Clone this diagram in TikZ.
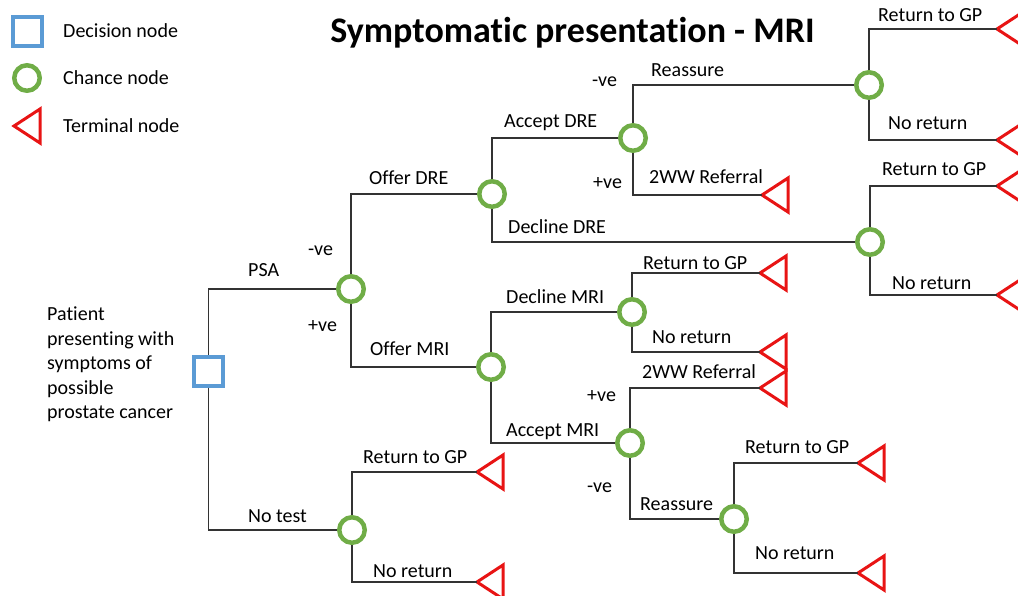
\documentclass[tikz,border=0pt]{standalone}
\usepackage{fontspec}
\setmainfont{Carlito}[Ligatures=NoCommon]
\begin{document}
\begin{tikzpicture}[x=1pt,y=-1pt,
  decision/.style={draw=decblue,line width=4pt,minimum size=29pt,inner sep=0pt,shape=rectangle},
  chance/.style={draw=chgreen,line width=4.5pt,minimum size=25.5pt,inner sep=0pt,shape=circle},
  branch/.style={draw=black!80,line width=1.3pt},
  lbl/.style={anchor=west,inner sep=0pt,text height=13pt,text depth=0pt,font=\fontsize{20}{24.5}\selectfont},
  terminal/.pic={\draw[draw=termred,line width=3pt,line join=miter] (0,0) -- (26,-17) -- (26,17) -- cycle;}
]
\definecolor{decblue}{RGB}{91,155,213}
\definecolor{chgreen}{RGB}{112,173,71}
\definecolor{termred}{RGB}{232,20,20}

\useasboundingbox (0,0) rectangle (1018,595);

% legend
\node[decision] (legdec) at (27,31) {};
\node[chance] (legchance) at (27,78) {};
\coordinate (legterm) at (14,126);
\pic at (legterm) {terminal};
\node[lbl] at (63,31) {Decision node};
\node[lbl] at (63,78) {Chance node};
\node[lbl] at (63,126) {Terminal node};

% title
\node[anchor=base,inner sep=0pt,font=\fontsize{36}{40}\selectfont\bfseries] (title) at (572.5,42) {Symptomatic presentation - MRI};

% decision and chance nodes
\node[decision] (dec) at (208.5,371) {};
\node[chance] (psa) at (351,289) {};
\node[chance] (notest) at (352,530) {};
\node[chance] (dre) at (492,194) {};
\node[chance] (mri) at (491,367) {};
\node[chance] (adre) at (633,138) {};
\node[chance] (ddre) at (870,242) {};
\node[chance] (reas1) at (869,85) {};
\node[chance] (dmri) at (632,312) {};
\node[chance] (amri) at (630,443) {};
\node[chance] (reas2) at (734,519) {};

% terminal tips
\coordinate (t1) at (997,29);
\coordinate (t2) at (997,140);
\coordinate (t3) at (762,195);
\coordinate (t4) at (997,186);
\coordinate (t5) at (997,295);
\coordinate (t6) at (760,273);
\coordinate (t7) at (760,352);
\coordinate (t8) at (760,388);
\coordinate (t9) at (858,463);
\coordinate (t10) at (858,573);
\coordinate (t11) at (477,472);
\coordinate (t12) at (477,582);
\foreach \t in {t1,t2,t3,t4,t5,t6,t7,t8,t9,t10,t11,t12} {\pic at (\t) {terminal};}

% branches
\draw[branch] (dec.north) |- (psa.west);
\draw[branch] (dec.south) |- (notest.west);
\draw[branch] (psa.north) |- (dre.west);
\draw[branch] (psa.south) |- (mri.west);
\draw[branch] (dre.north) |- (adre.west);
\draw[branch] (dre.south) |- (ddre.west);
\draw[branch] (adre.north) |- (reas1.west);
\draw[branch] (adre.south) |- (t3);
\draw[branch] (reas1.north) |- (t1);
\draw[branch] (reas1.south) |- (t2);
\draw[branch] (ddre.north) |- (t4);
\draw[branch] (ddre.south) |- (t5);
\draw[branch] (mri.north) |- (dmri.west);
\draw[branch] (mri.south) |- (amri.west);
\draw[branch] (dmri.north) |- (t6);
\draw[branch] (dmri.south) |- (t7);
\draw[branch] (amri.north) |- (t8);
\draw[branch] (amri.south) |- (reas2.west);
\draw[branch] (reas2.north) |- (t9);
\draw[branch] (reas2.south) |- (t10);
\draw[branch] (notest.north) |- (t11);
\draw[branch] (notest.south) |- (t12);

% root description
\node[anchor=north west,inner sep=0pt,align=left,font=\fontsize{20}{24.5}\selectfont] (patient) at (47,307)
  {Patient\\presenting with\\symptoms of\\possible\\prostate cancer};

% branch labels
\node[lbl] at (248,270) {PSA};
\node[lbl] at (308,249) {-ve};
\node[lbl] at (308,325) {+ve};
\node[lbl] at (248,516) {No test};
\node[lbl] at (369,178) {Offer DRE};
\node[lbl] at (370,349) {Offer MRI};
\node[lbl] at (504,121) {Accept DRE};
\node[lbl] at (508,227) {Decline DRE};
\node[lbl] at (592,80) {-ve};
\node[lbl] at (593,182) {+ve};
\node[lbl] at (651,70) {Reassure};
\node[lbl] at (649,177) {2WW Referral};
\node[lbl] at (878,15) {Return to GP};
\node[lbl] at (888,123) {No return};
\node[lbl] at (882,169) {Return to GP};
\node[lbl] at (892,283) {No return};
\node[lbl] at (506,297) {Decline MRI};
\node[lbl] at (643,263) {Return to GP};
\node[lbl] at (652,337) {No return};
\node[lbl] at (642,372) {2WW Referral};
\node[lbl] at (587,395) {+ve};
\node[lbl] at (506,430) {Accept MRI};
\node[lbl] at (587,486) {-ve};
\node[lbl] at (640,504) {Reassure};
\node[lbl] at (745,447) {Return to GP};
\node[lbl] at (755,553) {No return};
\node[lbl] at (363,457) {Return to GP};
\node[lbl] at (373,571) {No return};
\end{tikzpicture}
\end{document}
